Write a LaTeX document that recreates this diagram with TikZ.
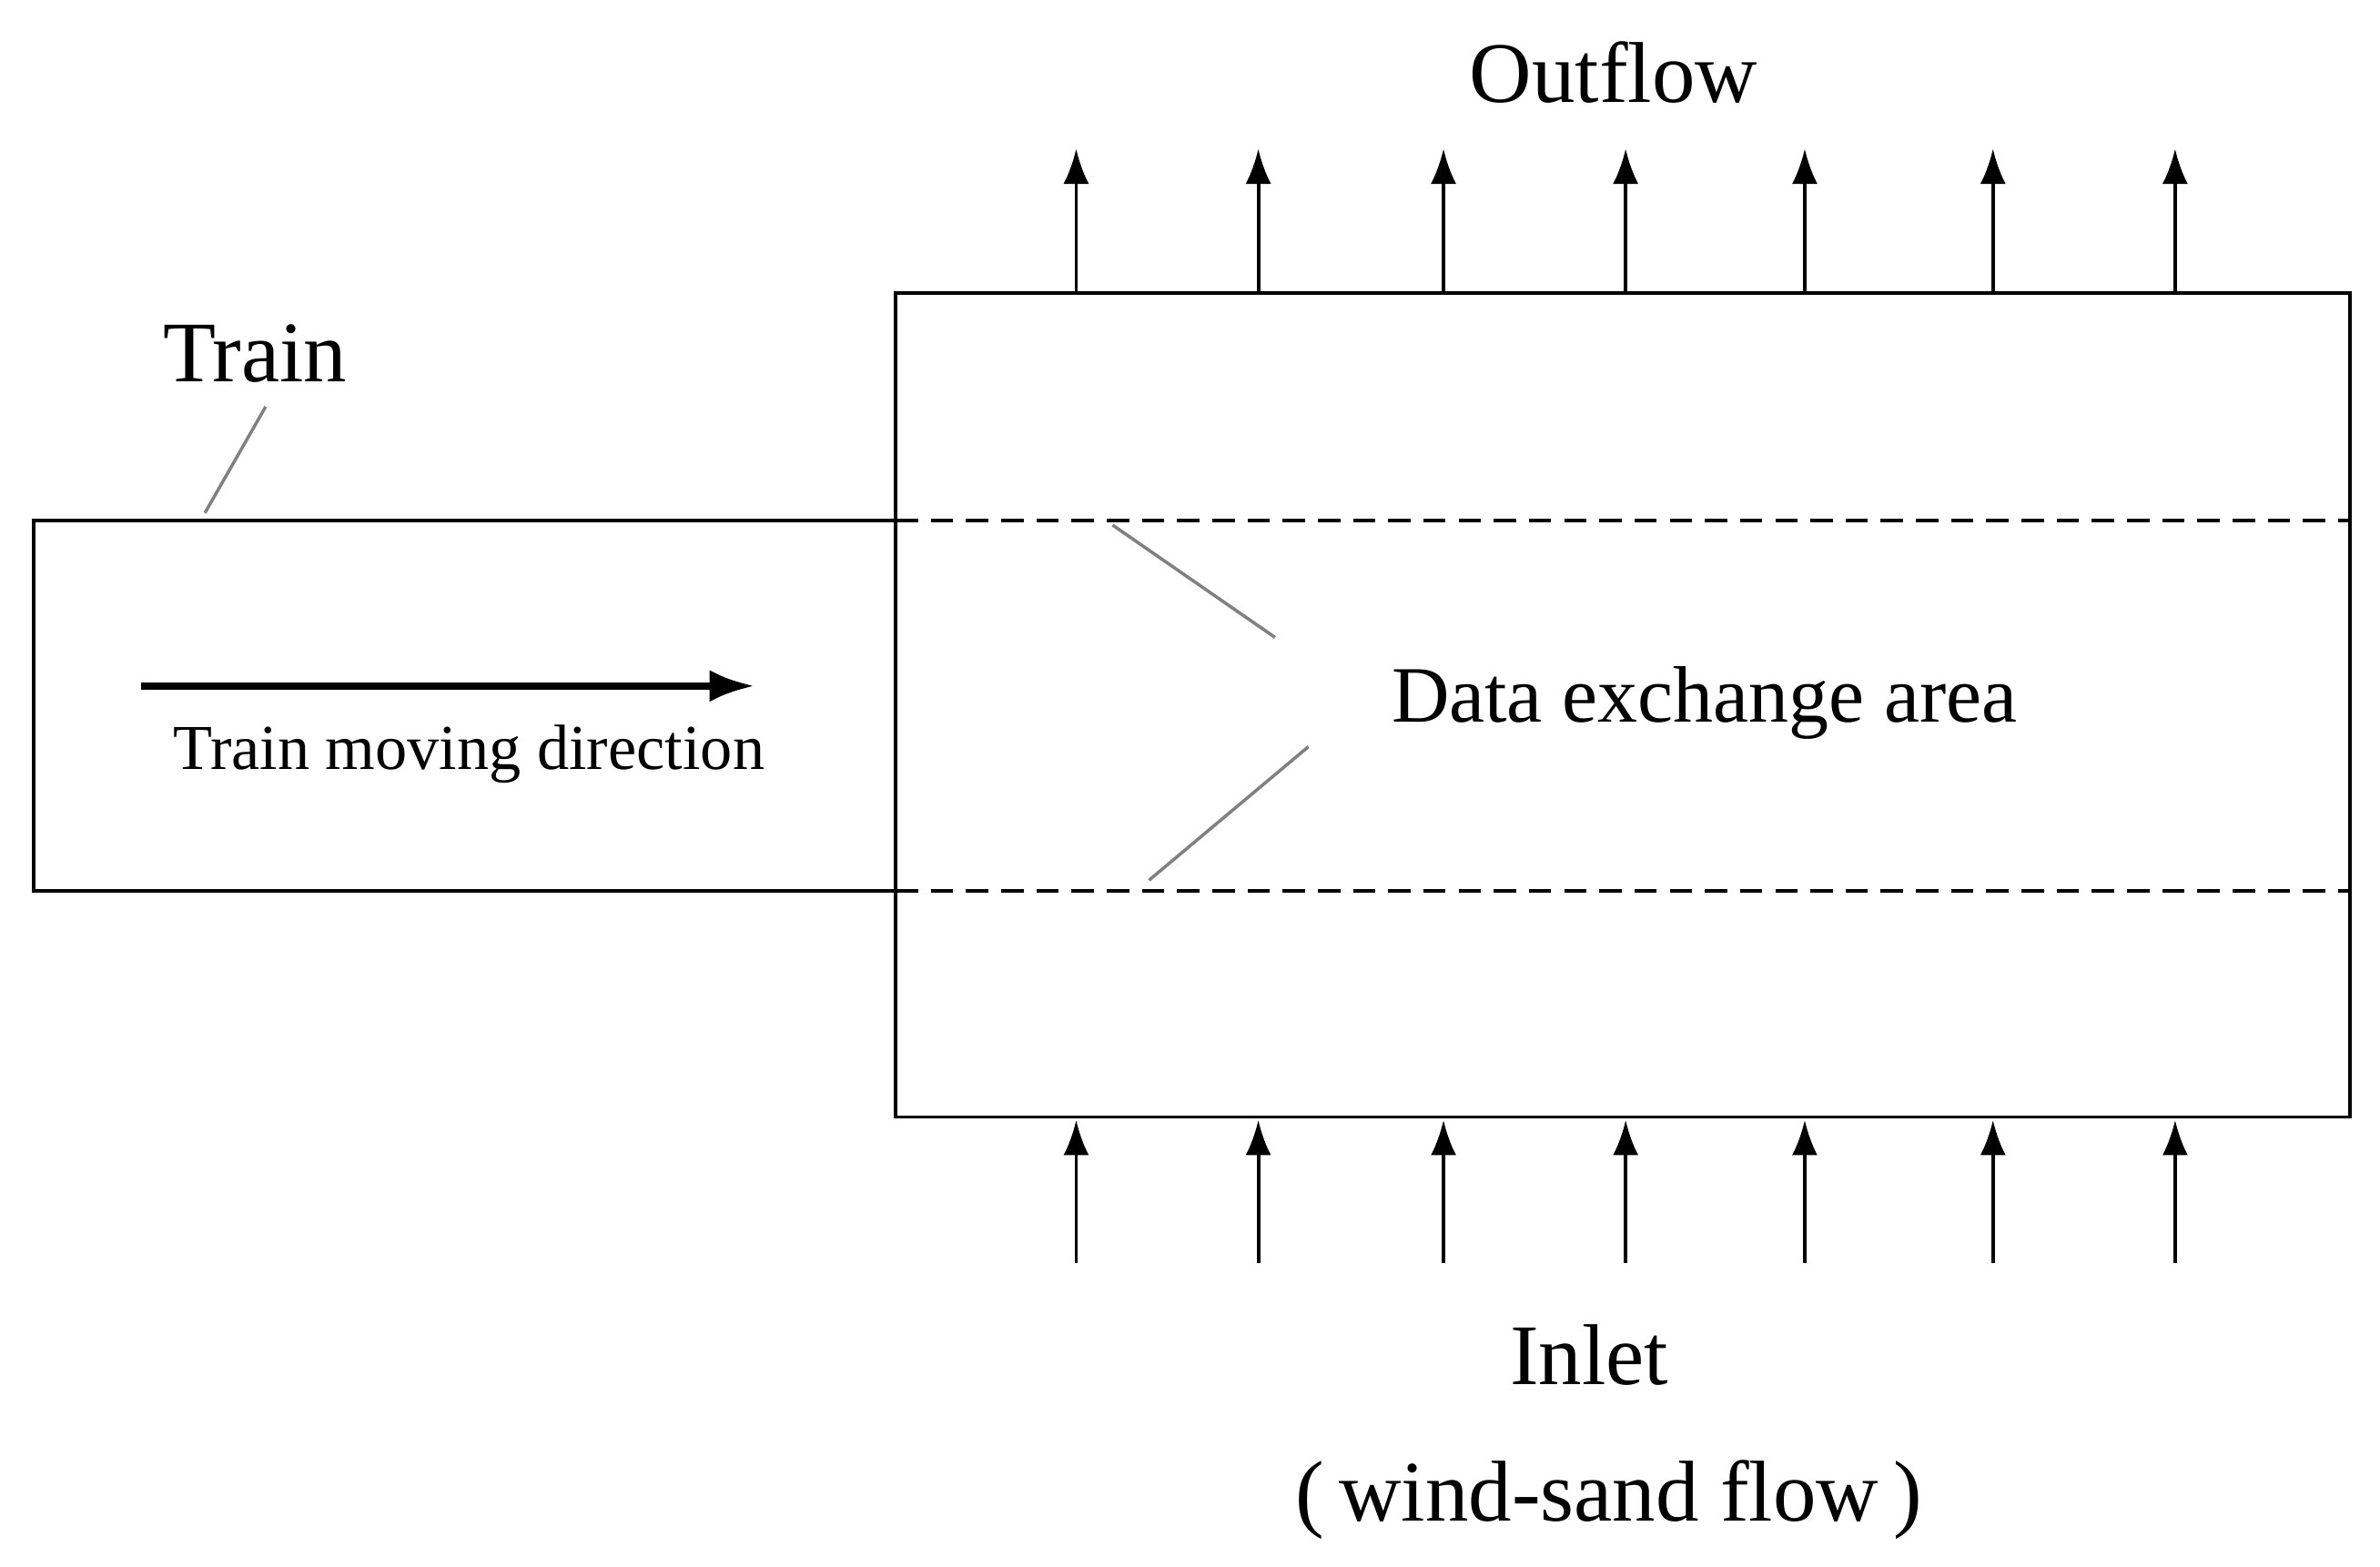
\documentclass[tikz,border=0pt]{standalone}
\usepackage{fontspec}
\setmainfont{Liberation Serif}
\usetikzlibrary{arrows.meta, positioning}

\begin{document}
\begin{tikzpicture}[x=0.01668cm, y=-0.01668cm,
    box/.style={line width=1.1pt},
    flow/.style={line width=1.1pt, -{Latex[length=11pt, width=8pt]}},
    leader/.style={gray, line width=1pt},
    big/.style={font=\fontsize{27}{30}\selectfont},
    mid/.style={font=\fontsize{25}{28}\selectfont},
    small/.style={font=\fontsize{20}{24}\selectfont}]
        \useasboundingbox (0, 0) rectangle (1568, 1032);

        % Dominio
        \draw[box] (590, 193) rectangle (1548, 736);

        % Treno
        \coordinate (tl) at (22, 343);
        \coordinate (tr) at (590, 343);
        \coordinate (bl) at (22, 587);
        \coordinate (br) at (590, 587);
        \coordinate (te) at (1548, 343);
        \coordinate (be) at (1548, 587);
        \draw[box] (tr) -- (tl) -- (bl) -- (br);
        \draw[box, dashed, dash pattern=on 7pt off 4pt] (tr) -- (te);
        \draw[box, dashed, dash pattern=on 7pt off 4pt] (br) -- (be);

        % Frecce
        \foreach \x in {709, 829, 951, 1071, 1189, 1313, 1433} {
          \coordinate (o0\x) at (\x, 193);
          \coordinate (o1\x) at (\x, 98);
          \coordinate (i0\x) at (\x, 832);
          \coordinate (i1\x) at (\x, 738);
          \draw[flow] (o0\x) -- (o1\x);
          \draw[flow] (i0\x) -- (i1\x);
        }

        % Etichette
        \node[big] (outflow) at (1063, 48) {Outflow};
        \node[big] (train) at (168, 233) {Train};
        \node[mid] (data) at (1123, 463) {Data exchange area};
        \node[small] (dir) at (309, 497) {Train moving direction};
        \node[big] (inlet) at (1047, 893) {Inlet};
        \node[big] (wind) at (1060, 988) {(\,wind-sand flow\,)};

        % Linee di richiamo
        \coordinate (ta) at (135, 338);
        \coordinate (tb) at (175, 268);
        \draw[leader] (ta) -- (tb);
        \coordinate (da) at (733, 346);
        \coordinate (db) at (840, 420);
        \coordinate (dc) at (757, 580);
        \coordinate (dd) at (862, 492);
        \draw[leader] (da) -- (db);
        \draw[leader] (dc) -- (dd);

        % Direzione
        \coordinate (m0) at (93, 452);
        \coordinate (m1) at (497, 452);
        \draw[line width=2.2pt, -{Latex[length=14pt, width=10pt]}] (m0) -- (m1);
      \end{tikzpicture}
\end{document}
